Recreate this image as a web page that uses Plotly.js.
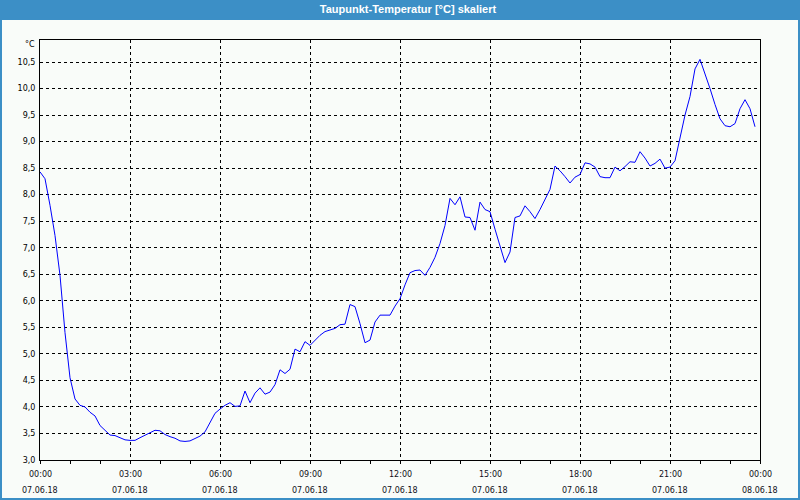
<!DOCTYPE html>
<html>
<head>
<meta charset="utf-8">
<script src="https://cdn.plot.ly/plotly-3.0.1.min.js"></script>
<style>html,body{margin:0;padding:0;background:#fff;}#chart{width:800px;height:500px;}</style>
</head>
<body>
<div id="chart"></div>
<script>
// Measurement times (07.06.2018, every 10 minutes)
const day = "2018-06-07";
const times = [
"00:00","00:10","00:20","00:30","00:40","00:50","01:00","01:10","01:20","01:30","01:40","01:50",
"02:00","02:10","02:20","02:30","02:40","02:50","03:00","03:10","03:20","03:30","03:40","03:50",
"04:00","04:10","04:20","04:30","04:40","04:50","05:00","05:10","05:20","05:30","05:40","05:50",
"06:00","06:10","06:20","06:30","06:40","06:50","07:00","07:10","07:20","07:30","07:40","07:50",
"08:00","08:10","08:20","08:30","08:40","08:50","09:00","09:10","09:20","09:30","09:40","09:50",
"10:00","10:10","10:20","10:30","10:40","10:50","11:00","11:10","11:20","11:30","11:40","11:50",
"12:00","12:10","12:20","12:30","12:40","12:50","13:00","13:10","13:20","13:30","13:40","13:50",
"14:00","14:10","14:20","14:30","14:40","14:50","15:00","15:10","15:20","15:30","15:40","15:50",
"16:00","16:10","16:20","16:30","16:40","16:50","17:00","17:10","17:20","17:30","17:40","17:50",
"18:00","18:10","18:20","18:30","18:40","18:50","19:00","19:10","19:20","19:30","19:40","19:50",
"20:00","20:10","20:20","20:30","20:40","20:50","21:00","21:10","21:20","21:30","21:40","21:50",
"22:00","22:10","22:20","22:30","22:40","22:50","23:00","23:10","23:20","23:30","23:40","23:50"
];
// Dew point temperature [°C]
const dewpoint = [
8.43,8.30,7.80,7.23,6.48,5.40,4.55,4.15,4.03,4.00,3.90,3.83,
3.65,3.55,3.47,3.46,3.42,3.38,3.37,3.37,3.42,3.47,3.52,3.56,
3.55,3.48,3.44,3.41,3.36,3.35,3.36,3.40,3.45,3.53,3.72,3.88,
3.96,4.03,4.08,4.01,4.02,4.30,4.08,4.26,4.36,4.24,4.28,4.42,
4.70,4.63,4.71,5.09,5.04,5.23,5.16,5.26,5.35,5.42,5.45,5.48,
5.55,5.56,5.93,5.89,5.57,5.21,5.26,5.60,5.73,5.73,5.73,5.90,
6.04,6.30,6.53,6.57,6.58,6.48,6.63,6.82,7.08,7.42,7.93,7.81,
7.96,7.58,7.57,7.33,7.86,7.72,7.68,7.35,7.03,6.72,6.92,7.57,
7.60,7.79,7.68,7.55,7.72,7.90,8.10,8.54,8.45,8.34,8.22,8.33,
8.38,8.60,8.58,8.52,8.34,8.32,8.32,8.52,8.45,8.53,8.62,8.61,
8.81,8.69,8.54,8.59,8.67,8.50,8.52,8.64,9.10,9.50,9.85,10.37,
10.55,10.29,10.00,9.70,9.43,9.30,9.28,9.34,9.62,9.79,9.62,9.28
];
// X tick labels (every 3 hours)
const tickTimes = ["2018-06-07 00:00","2018-06-07 03:00","2018-06-07 06:00","2018-06-07 09:00","2018-06-07 12:00","2018-06-07 15:00","2018-06-07 18:00","2018-06-07 21:00","2018-06-08 00:00"];
const tickHours = ["00:00","03:00","06:00","09:00","12:00","15:00","18:00","21:00","00:00"];
const tickDates = ["07.06.18","07.06.18","07.06.18","07.06.18","07.06.18","07.06.18","07.06.18","07.06.18","08.06.18"];
const titleText = "Taupunkt-Temperatur [°C] skaliert";
const unitText = "°C";

const xs = times.map(t => day + " " + t);
const FONT = "DejaVu Sans, Verdana, sans-serif";
const BLUE = "#3c8fc6";
const BG = "#f9fcf9";

const annotations = [];
tickTimes.forEach((t, i) => {
  annotations.push({x: t, xref: "x", y: 0, yref: "paper", yanchor: "top", yshift: -8,
    text: tickHours[i], showarrow: false, font: {family: FONT, size: 8, color: "#101020"}});
  annotations.push({x: t, xref: "x", y: 0, yref: "paper", yanchor: "top", yshift: -24,
    text: tickDates[i], showarrow: false, font: {family: FONT, size: 8, color: "#101020"}});
});
annotations.push({x: 0, xref: "paper", xanchor: "right", xshift: -3, y: 1, yref: "paper",
  yanchor: "middle", yshift: -4, text: unitText, showarrow: false,
  font: {family: FONT, size: 8, color: "#000"}});

const shapes = [
  // inner light background
  {type: "rect", layer: "below", xref: "paper", yref: "paper",
   xsizemode: "pixel", ysizemode: "pixel", xanchor: 0, yanchor: 0,
   x0: -38, x1: 758, y0: -38, y1: 440, fillcolor: BG, line: {width: 0}}
];

const trace = {x: xs, y: dewpoint, type: "scatter", mode: "lines",
  line: {color: "#0000ff", width: 1}, hoverinfo: "x+y"};

const layout = {
  width: 800, height: 500,
  margin: {l: 40, r: 40, t: 40, b: 40},
  paper_bgcolor: BLUE, plot_bgcolor: "rgba(0,0,0,0)",
  separators: ",.",
  showlegend: false,
  title: {text: titleText, x: 0.51, xref: "container", xanchor: "center",
    y: 0.982, yref: "container", yanchor: "middle",
    font: {family: "Liberation Sans, Arial, sans-serif", size: 11, color: "#ffffff", weight: "bold"}},
  xaxis: {type: "date", range: ["2018-06-07 00:00", "2018-06-08 00:00"],
    tick0: "2018-06-07 00:00", dtick: 3 * 3600000,
    showgrid: true, gridcolor: "#000", griddash: "3px,3px", gridwidth: 1,
    showline: true, linecolor: "#000", linewidth: 1, mirror: true,
    ticks: "outside", ticklen: 3, tickcolor: "#000", tickwidth: 1,
    showticklabels: false, zeroline: false,
    minor: {dtick: 3600000, tick0: "2018-06-07 00:00", ticks: "outside", ticklen: 3, tickcolor: "#000", showgrid: false}},
  yaxis: {range: [3, 10.915], dtick: 0.5, tick0: 3, tickformat: ".1f",
    showgrid: true, gridcolor: "#000", griddash: "3px,3px", gridwidth: 1,
    showline: true, linecolor: "#000", linewidth: 1, mirror: true,
    ticks: "", ticklabelstandoff: 2, zeroline: false,
    tickfont: {family: FONT, size: 8, color: "#000"}},
  annotations: annotations,
  shapes: shapes
};

Plotly.newPlot("chart", [trace], layout, {displayModeBar: false, staticPlot: true});
</script>
</body>
</html>
